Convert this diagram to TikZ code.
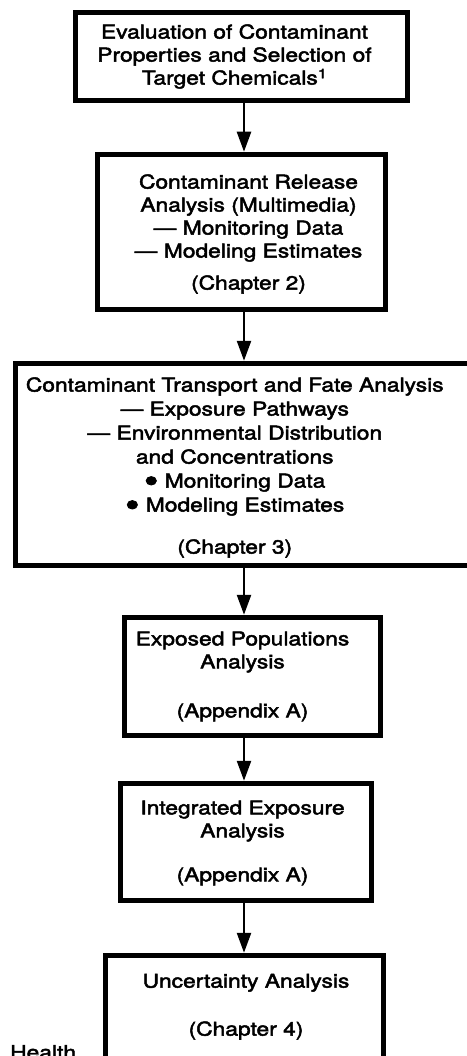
\documentclass[tikz,border=0pt]{standalone}
\usepackage{fontspec}
\setmainfont{TeX Gyre Heros}[FakeStretch=1.2,FakeBold=2.5]
\usetikzlibrary{arrows.meta}
% a larger bullet for the sub-items, kept out of the line spacing
\newcommand{\bigdot}{{\fontsize{34}{23}\selectfont\raisebox{-5pt}[0pt][0pt]{•}}}
\begin{document}
\begin{tikzpicture}[x=1pt,y=-1pt,
  box/.style={draw=black, line width=5.5pt, rectangle, inner sep=0pt},
  caption/.style={inner sep=0pt, align=center, font=\fontsize{19}{23}\selectfont},
  flow/.style={line width=2.5pt, -{Triangle[width=14pt,length=20pt]}}]
\useasboundingbox (0,0) rectangle (466,1056);

% column through which the arrows run
\coordinate (ax) at (244,0);

\node[box, minimum width=332pt, minimum height=88pt,
  label={[caption, name=b1t, xshift=-7pt]center:Evaluation of Contaminant\\Properties and Selection of\\Target Chemicals\textsuperscript{1}}]
  (b1) at (241.5,56.5) {};

\node[box, minimum width=288pt, minimum height=155pt,
  label={[caption, name=b2t, xshift=7pt, yshift=-2pt]center:Contaminant Release\\Analysis (Multimedia)\\— Monitoring Data\\— Modeling Estimates\\[9pt](Chapter 2)}]
  (b2) at (241.5,232) {};

\node[box, minimum width=456.5pt, minimum height=202pt,
  label={[caption, font=\fontsize{19}{24}\selectfont, name=b3t, xshift=-9pt, yshift=-3pt]center:Contaminant Transport and Fate Analysis\\— Exposure Pathways\\— Environmental Distribution\\and Concentrations\\\bigdot{} Monitoring Data\\\bigdot{} Modeling Estimates\\[18pt](Chapter 3)}]
  (b3) at (243.75,464.5) {};

\node[box, minimum width=256pt, minimum height=118pt,
  label={[caption, name=b4t, xshift=-10pt]center:Exposed Populations\\Analysis\\[26pt](Appendix A)}]
  (b4) at (252.5,676.5) {};

\node[box, minimum width=251pt, minimum height=117pt,
  label={[caption, name=b5t, xshift=-3.5pt, yshift=-1pt]center:Integrated Exposure\\Analysis\\[21pt](Appendix A)}]
  (b5) at (246,842) {};

\node[box, minimum width=278pt, minimum height=114.5pt,
  label={[caption, name=b6t, xshift=1.5pt, yshift=6pt]center:Uncertainty Analysis\\[25pt](Chapter 4)}]
  (b6) at (244.5,1012.75) {};

\node[caption, anchor=base west] (health) at (10,1059) {Health};

\draw[flow] (b1.south -| ax) -- (b2.north -| ax);
\draw[flow] (b2.south -| ax) -- (b3.north -| ax);
\draw[flow] (b3.south -| ax) -- (b4.north -| ax);
\draw[flow] (b4.south -| ax) -- (b5.north -| ax);
\draw[flow] (b5.south -| ax) -- (b6.north -| ax);
\end{tikzpicture}
\end{document}
